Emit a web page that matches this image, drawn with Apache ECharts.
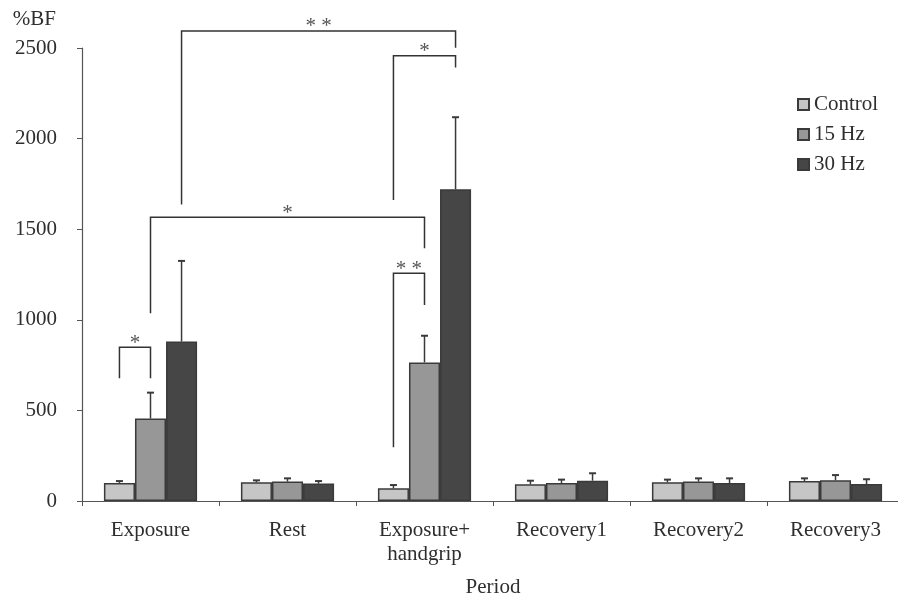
<!DOCTYPE html>
<html>
<head>
<meta charset="utf-8">
<script src="https://cdn.jsdelivr.net/npm/echarts@6/dist/echarts.min.js"></script>
<style>
html,body{margin:0;padding:0;background:#fff;overflow:hidden;}
#chart{width:898px;height:598px;}
</style>
</head>
<body>
<div id="chart"></div>
<script>
const categories = ['Exposure', 'Rest', 'Exposure+\nhandgrip', 'Recovery1', 'Recovery2', 'Recovery3'];
const seriesNames = ['Control', '15 Hz', '30 Hz'];
const controlMean = [100, 103, 70, 92, 103, 110];
const controlErr = [10, 11, 18, 20, 15, 15];
const hz15Mean = [455, 107, 765, 99, 107, 114];
const hz15Err = [143, 18, 147, 19, 18, 29];
const hz30Mean = [880, 96, 1720, 112, 99, 94];
const hz30Err = [445, 14, 398, 41, 26, 26];
const yTicks = [0, 500, 1000, 1500, 2000, 2500];

// significance brackets: [category, series] endpoints, levels in data units
const bracketFrom = [[0, 0], [0, 1], [0, 2], [2, 0], [2, 0]];
const bracketTo   = [[0, 1], [2, 1], [2, 2], [2, 2], [2, 1]];
const bracketTop  = [848, 1566, 2594, 2457, 1257];
const bracketLeftEnd  = [677, 1036, 1637, 1661, 296];
const bracketRightEnd = [677, 1395, 2502, 2393, 1082];
const bracketMarks = ['*', '*', '* *', '*', '* *'];

const means = [controlMean, hz15Mean, hz30Mean];
const errs = [controlErr, hz15Err, hz30Err];
const colors = ['#c6c6c6', '#979797', '#464646'];
const CAT_GAP = 0.32;
const FONT = 'Liberation Serif, Times New Roman, serif';
const TXT = '#2e2e2e';
const FS = 21;

function barCenter(api, cat, ser) {
  const band = api.size([1, 0])[0];
  const bw = band * (1 - CAT_GAP) / 3;
  const c = api.coord([cat, 0]);
  return c[0] + (ser - 1) * bw;
}

const series = [];
for (let k = 0; k < 3; k++) {
  series.push({
    name: seriesNames[k],
    type: 'bar',
    data: means[k],
    barGap: '0%',
    barCategoryGap: (CAT_GAP * 100) + '%',
    itemStyle: { color: colors[k], borderColor: '#3a3a3a', borderWidth: 1.5 },
    emphasis: { disabled: true },
    z: 2
  });
}
for (let k = 0; k < 3; k++) {
  const d = means[k].map((m, i) => [i, m, errs[k][i]]);
  series.push({
    type: 'custom',
    data: d,
    encode: { x: 0, y: 1 },
    z: 3,
    silent: true,
    renderItem: function (params, api) {
      const cat = api.value(0), m = api.value(1), e = api.value(2);
      const x = barCenter(api, cat, k);
      const y0 = api.coord([cat, m])[1];
      const y1 = api.coord([cat, m + e])[1];
      const st = { stroke: '#3a3a3a', lineWidth: 1.5 };
      return {
        type: 'group',
        children: [
          { type: 'line', shape: { x1: x, y1: y0, x2: x, y2: y1 }, style: st },
          { type: 'line', shape: { x1: x - 3.5, y1: y1, x2: x + 3.5, y2: y1 }, style: { stroke: '#3a3a3a', lineWidth: 2 } }
        ]
      };
    }
  });
}
// brackets
series.push({
  type: 'custom',
  data: bracketTop.map((t, i) => [bracketFrom[i][0], t, i]),
  encode: { x: 0, y: 1 },
  z: 4,
  silent: true,
  clip: false,
  renderItem: function (params, api) {
    const i = api.value(2);
    const xa = barCenter(api, bracketFrom[i][0], bracketFrom[i][1]);
    const xb = barCenter(api, bracketTo[i][0], bracketTo[i][1]);
    const yt = api.coord([0, bracketTop[i]])[1];
    const yl = api.coord([0, bracketLeftEnd[i]])[1];
    const yr = api.coord([0, bracketRightEnd[i]])[1];
    return {
      type: 'group',
      children: [
        { type: 'polyline', shape: { points: [[xa, yl], [xa, yt], [xb, yt], [xb, yr]] },
          style: { stroke: '#333', lineWidth: 1.5, fill: null } },
        { type: 'text', x: (xa + xb) / 2, y: yt - 4,
          style: { text: bracketMarks[i], font: FS + 'px ' + FONT, fill: '#555', align: 'center', verticalAlign: 'middle' } }
      ]
    };
  }
});

const chart = echarts.init(document.getElementById('chart'), null, { renderer: 'canvas' });
chart.setOption({
  animation: false,
  backgroundColor: '#fff',
  textStyle: { fontFamily: FONT },
  legend: {
    data: seriesNames,
    orient: 'vertical',
    left: 797,
    top: 94,
    padding: 0,
    itemWidth: 11,
    itemHeight: 11,
    itemGap: 9,
    itemTextGap: 6,
    icon: 'rect',
    selectedMode: false,
    textStyle: { fontFamily: FONT, fontSize: FS, color: TXT }
  },
  grid: { left: 82, top: 48, width: 822, height: 453, containLabel: false, outerBoundsMode: 'none' },
  xAxis: {
    type: 'category',
    data: categories,
    name: 'Period',
    nameLocation: 'middle',
    nameGap: 76,
    nameTextStyle: { fontFamily: FONT, fontSize: FS, color: TXT },
    axisLine: { lineStyle: { color: '#555', width: 1.2 } },
    axisTick: { show: true, length: 5, alignWithLabel: false, lineStyle: { color: '#555' } },
    axisLabel: { fontFamily: FONT, fontSize: FS, color: TXT, margin: 17, lineHeight: 24, interval: 0 }
  },
  yAxis: {
    type: 'value',
    min: 0,
    max: 2500,
    interval: 500,
    name: '%BF',
    nameLocation: 'end',
    nameGap: 18,
    nameTextStyle: { fontFamily: FONT, fontSize: FS, color: TXT, align: 'right', padding: [0, 26, 0, 0] },
    axisLine: { show: true, lineStyle: { color: '#555', width: 1.2 } },
    axisTick: { show: true, length: 5, lineStyle: { color: '#555' } },
    splitLine: { show: false },
    axisLabel: { fontFamily: FONT, fontSize: FS, color: TXT, margin: 25,
      formatter: function (v) { return yTicks.indexOf(v) >= 0 ? String(v) : ''; } }
  },
  series: series
});
</script>
</body>
</html>
